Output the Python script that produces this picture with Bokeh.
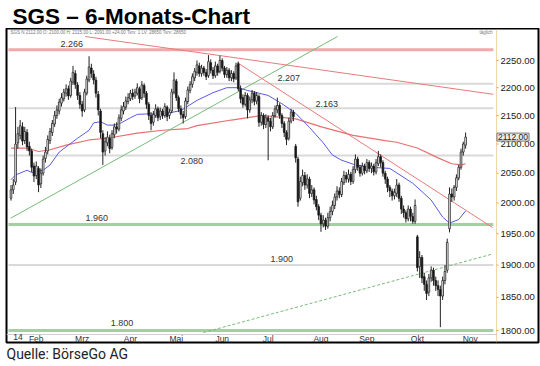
from bokeh.plotting import figure
from bokeh.layouts import column
from bokeh.models import Range1d, Label, Title, ColumnDataSource
from bokeh.embed import file_html
from bokeh.resources import INLINE
from bokeh.core.properties import value

# ---------------- data ----------------
opens = [2008, 2022, 2035, 2102, 2115, 2130, 2106, 2120, 2096, 2088,
         2062, 2046, 2058, 2032, 2050, 2075, 2088, 2106, 2120, 2135,
         2150, 2158, 2172, 2180, 2190, 2198, 2186, 2210, 2226, 2205,
         2186, 2170, 2160, 2190, 2214, 2236, 2225, 2214, 2188, 2158,
         2118, 2088, 2102, 2110, 2094, 2116, 2130, 2126, 2145, 2158,
         2165, 2175, 2180, 2190, 2185, 2190, 2198, 2182, 2204, 2190,
         2170, 2150, 2138, 2150, 2162, 2148, 2158, 2150, 2165, 2150,
         2158, 2192, 2212, 2182, 2162, 2152, 2148, 2175, 2195, 2206,
         2218, 2228, 2240, 2226, 2236, 2228, 2222, 2246, 2232, 2222,
         2240, 2230, 2250, 2236, 2224, 2232, 2218, 2226, 2218, 2244,
         2198, 2182, 2170, 2186, 2160, 2178, 2190, 2176, 2184, 2138,
         2150, 2134, 2146, 2140, 2130, 2150, 2160, 2168, 2150, 2136,
         2120, 2110, 2140, 2156, 2096, 2074, 2008, 2034, 2046, 2030,
         2040, 2016, 2022, 2006, 1994, 1980, 1966, 1972, 1962, 1976,
         1986, 1996, 2010, 2020, 2014, 2034, 2046, 2040, 2048, 2036,
         2056, 2074, 2060, 2050, 2062, 2054, 2068, 2058, 2062, 2052,
         2066, 2078, 2068, 2050, 2040, 2026, 2020, 2012, 2016, 2030,
         2008, 1990, 1984, 1974, 1990, 1978, 1970, 1945, 1898, 1912,
         1882, 1870, 1858, 1880, 1892, 1876, 1868, 1862, 1852, 1876,
         1892, 1958, 2015, 2010, 2026, 2042, 2060, 2086, 2098]
highs = [2030, 2040, 2165, 2130, 2142, 2138, 2130, 2126, 2104, 2092,
         2068, 2070, 2062, 2058, 2080, 2095, 2115, 2128, 2142, 2158,
         2168, 2180, 2190, 2198, 2206, 2204, 2218, 2240, 2232, 2210,
         2192, 2176, 2198, 2222, 2258, 2244, 2232, 2220, 2194, 2162,
         2124, 2112, 2122, 2116, 2124, 2136, 2138, 2152, 2168, 2174,
         2184, 2190, 2196, 2198, 2198, 2208, 2202, 2212, 2208, 2194,
         2174, 2156, 2158, 2170, 2166, 2164, 2162, 2172, 2168, 2162,
         2198, 2228, 2216, 2186, 2168, 2158, 2182, 2202, 2212, 2226,
         2236, 2250, 2246, 2242, 2240, 2234, 2260, 2252, 2238, 2248,
         2244, 2259, 2254, 2240, 2238, 2236, 2232, 2230, 2246, 2248,
         2204, 2188, 2192, 2190, 2184, 2196, 2194, 2192, 2188, 2156,
         2154, 2152, 2150, 2146, 2156, 2168, 2182, 2172, 2154, 2140,
         2124, 2146, 2162, 2160, 2100, 2078, 2044, 2056, 2052, 2048,
         2044, 2030, 2026, 2012, 1998, 1984, 1980, 1976, 1984, 1994,
         2004, 2016, 2028, 2026, 2042, 2054, 2052, 2056, 2052, 2062,
         2082, 2078, 2064, 2068, 2066, 2074, 2072, 2068, 2066, 2074,
         2088, 2082, 2072, 2054, 2044, 2030, 2024, 2024, 2040, 2034,
         2012, 1996, 1988, 1996, 1994, 1984, 2006, 1948, 1922, 1916,
         1888, 1876, 1886, 1898, 1896, 1882, 1876, 1868, 1882, 1900,
         1942, 2026, 2024, 2030, 2048, 2064, 2092, 2104, 2120]
lows = [2004, 2015, 2030, 2092, 2108, 2098, 2100, 2088, 2080, 2052,
        2035, 2040, 2018, 2025, 2046, 2068, 2082, 2100, 2114, 2130,
        2144, 2152, 2166, 2175, 2184, 2178, 2182, 2205, 2198, 2178,
        2162, 2148, 2156, 2186, 2210, 2218, 2206, 2182, 2150, 2110,
        2064, 2080, 2096, 2084, 2090, 2110, 2118, 2122, 2140, 2152,
        2160, 2170, 2176, 2178, 2180, 2186, 2172, 2178, 2182, 2162,
        2142, 2124, 2132, 2146, 2140, 2142, 2144, 2146, 2140, 2144,
        2154, 2188, 2176, 2156, 2144, 2136, 2144, 2170, 2190, 2200,
        2212, 2222, 2220, 2220, 2222, 2214, 2218, 2226, 2216, 2218,
        2222, 2226, 2230, 2218, 2218, 2212, 2212, 2210, 2214, 2194,
        2172, 2164, 2166, 2145, 2155, 2172, 2168, 2170, 2130, 2132,
        2126, 2128, 2072, 2122, 2126, 2146, 2154, 2144, 2128, 2112,
        2098, 2106, 2136, 2140, 2068, 1994, 2004, 2028, 2022, 2024,
        2008, 2010, 1998, 1988, 1972, 1953, 1960, 1956, 1958, 1970,
        1980, 1990, 2004, 2008, 2010, 2030, 2034, 2034, 2030, 2032,
        2050, 2054, 2044, 2046, 2048, 2050, 2052, 2050, 2046, 2048,
        2062, 2060, 2044, 2032, 2018, 2010, 2004, 2006, 2010, 2002,
        1982, 1976, 1968, 1970, 1970, 1966, 1966, 1890, 1880, 1872,
        1860, 1846, 1852, 1874, 1868, 1860, 1852, 1805, 1846, 1870,
        1888, 1952, 2002, 2004, 2020, 2038, 2056, 2080, 2092]
closes = [2022, 2030, 2100, 2118, 2132, 2105, 2122, 2095, 2088, 2060,
          2045, 2062, 2030, 2050, 2074, 2086, 2108, 2122, 2136, 2150,
          2160, 2174, 2182, 2192, 2198, 2185, 2212, 2228, 2206, 2186,
          2170, 2158, 2192, 2216, 2238, 2226, 2214, 2190, 2160, 2120,
          2086, 2104, 2112, 2092, 2118, 2130, 2126, 2146, 2160, 2166,
          2176, 2182, 2190, 2184, 2192, 2200, 2180, 2205, 2190, 2170,
          2150, 2136, 2152, 2162, 2146, 2158, 2150, 2166, 2148, 2156,
          2192, 2214, 2182, 2162, 2152, 2146, 2176, 2196, 2206, 2220,
          2230, 2242, 2226, 2236, 2228, 2220, 2248, 2232, 2222, 2240,
          2228, 2250, 2236, 2224, 2232, 2218, 2226, 2216, 2240, 2198,
          2180, 2170, 2186, 2160, 2178, 2190, 2175, 2186, 2138, 2150,
          2134, 2146, 2140, 2130, 2150, 2162, 2168, 2150, 2136, 2120,
          2108, 2140, 2156, 2148, 2076, 2002, 2036, 2046, 2030, 2040,
          2016, 2022, 2005, 1994, 1980, 1966, 1972, 1962, 1976, 1986,
          1996, 2010, 2020, 2014, 2036, 2046, 2040, 2048, 2036, 2056,
          2074, 2060, 2050, 2062, 2054, 2068, 2058, 2062, 2052, 2068,
          2078, 2068, 2050, 2040, 2026, 2020, 2012, 2018, 2030, 2008,
          1990, 1984, 1974, 1990, 1978, 1970, 1996, 1896, 1912, 1880,
          1870, 1856, 1880, 1892, 1876, 1868, 1862, 1852, 1876, 1890,
          1936, 2015, 2010, 2026, 2042, 2060, 2086, 2100, 2112]
bars = list(range(len(closes)))

month_labels = ["14", "Feb", "Mrz", "Apr", "Mai", "Jun", "Jul", "Aug", "Sep", "Okt", "Nov"]
month_start_bar = [0, 8, 28, 49, 69, 89, 109, 132, 152, 174, 197]

price_ticks = [1800, 1850, 1900, 1950, 2000, 2050, 2100, 2150, 2200, 2250]

# horizontal support / resistance levels
level_values = [2270, 2207, 2163, 2080, 1965, 1900, 1800]
level_labels = ["2.266", "2.207", "2.163", "2.080", "1.960", "1.900", "1.800"]
level_kinds = ["red", "gray", "gray", "gray", "green", "gray", "green"]
level_first_bar = [-1.1, 86, -1.1, -1.1, -1.1, -1.1, -1.1]
level_last_bar = 210.1

# moving averages (blue = short, red = long)
ma_short_bar = [0, 2, 7, 9, 14, 17, 21, 25, 29, 34, 36, 39, 42, 45, 48, 52, 55,
                60, 66, 74, 81, 88, 94, 99, 103, 107, 112, 118, 124, 130, 136,
                140, 144, 150, 157, 165, 175, 183, 188, 191, 195, 198]
ma_short_val = [2039, 2047, 2055, 2051, 2055, 2064, 2086, 2098, 2110, 2124, 2137,
                2139, 2133, 2133, 2137, 2146, 2152, 2153, 2152, 2159, 2177, 2191,
                2200, 2200, 2195, 2191, 2186, 2171, 2154, 2129, 2102, 2081, 2072,
                2064, 2060, 2058, 2033, 2005, 1977, 1967, 1973, 1987]
ma_long_bar = [0, 7, 12, 17, 24, 34, 42, 55, 66, 77, 81, 96, 109, 115, 124,
               136, 149, 163, 168, 177, 186, 192, 196, 198]
ma_long_val = [2093, 2093, 2087, 2090, 2098, 2107, 2110, 2119, 2124, 2127, 2132,
               2142, 2150, 2148, 2144, 2129, 2115, 2106, 2103, 2093, 2076, 2066,
               2064, 2066]

# trend lines (bar, price) end points
trend_up_bars = [-0.2, 142.2]
trend_up_vals = [1975, 2295]
trend_up2_bars = [83.8, 209.7]
trend_up2_vals = [1797, 1917.5]
trend_down_bars = [32.4, 210.1]
trend_down_vals = [2295, 2188]
trend_down2_bars = [98.6, 209.7]
trend_down2_vals = [2246, 1960]

# ---------------- layout ----------------
W = 540
HEAD_H = 28
MAIN_H = 338
X0, X1 = -1.96, 229.75          # bar range covered by the chart box
Y0, Y1 = 1782.3, 2310.3          # price range covered by the chart box (log)
axis_bar = 211.45                # bar position of the price axis line
axis_label_bar = 213.2
plot_bottom_val = 1794.1
month_label_val = 1795.2
header_val = 2303.6
label_shift = 3

# heading strip (own small figure so the chart box starts exactly below it)
ph = figure(width=W, height=HEAD_H, x_range=Range1d(0, W), y_range=Range1d(0, HEAD_H),
            x_axis_location=None, y_axis_location=None, output_backend="svg",
            toolbar_location=None, min_border=0)
ph.xgrid.visible = False
ph.ygrid.visible = False
ph.outline_line_color = None
ph.text(x=[6], y=[12], text=["SGS – 6-Monats-Chart"], text_font=value("Liberation Sans"),
        text_font_style="bold", text_font_size="22.5px", text_color="black",
        text_baseline="alphabetic", text_align="left")

p = figure(width=W, height=MAIN_H, x_range=Range1d(X0, X1), y_range=Range1d(Y0, Y1),
           y_axis_type="log", x_axis_location=None, y_axis_location=None,
           output_backend="svg", toolbar_location=None,
           min_border_left=6, min_border_right=2, min_border_top=0, min_border_bottom=24)
p.xgrid.visible = False
p.ygrid.visible = False
p.outline_line_color = "black"
p.outline_line_width = 2
p.background_fill_color = "white"
p.border_fill_color = "white"

p.add_layout(Title(text="Quelle: BörseGo AG", align="left", offset=0, standoff=3,
                   text_font="Roboto", text_font_style="normal", text_font_size="14px",
                   text_color="#222222"), "below")

# level lines
style = {"red": ("#f2a9a9", 3), "gray": ("#d9d9d9", 2), "green": ("#a3cfa3", 3)}
for v, kind, b0 in zip(level_values, level_kinds, level_first_bar):
    col, lw = style[kind]
    p.segment(x0=[b0], y0=[v], x1=[level_last_bar], y1=[v], line_color=col, line_width=lw)

# plot-area bottom rule
p.segment(x0=[X0], y0=[plot_bottom_val], x1=[axis_bar], y1=[plot_bottom_val],
          line_color="#cfcfcf", line_width=1)

# trend lines
p.line(trend_up_bars, trend_up_vals, line_color="#77bb77", line_width=1)
p.line(trend_up2_bars, trend_up2_vals, line_color="#77bb77", line_width=1, line_dash="3 2")
p.line(trend_down_bars, trend_down_vals, line_color="#e87a7a", line_width=1)
p.line(trend_down2_bars, trend_down2_vals, line_color="#e87a7a", line_width=1)

# moving averages
p.line(ma_long_bar, ma_long_val, line_color="#e87070", line_width=1.2)
p.line(ma_short_bar, ma_short_val, line_color="#5a5ae6", line_width=1)

# candles
src = ColumnDataSource(dict(
    x=bars, high=highs, low=lows,
    top=[max(o, c) for o, c in zip(opens, closes)],
    bottom=[min(o, c) for o, c in zip(opens, closes)],
    fill=["white" if c >= o else "#111111" for o, c in zip(opens, closes)],
))
p.segment(x0="x", y0="low", x1="x", y1="high", source=src, line_color="#222222", line_width=1)
p.vbar(x="x", width=0.72, top="top", bottom="bottom", fill_color="fill",
       line_color="#222222", line_width=0.8, source=src)

# level labels
label_bar = [21.6, 116.1, 132.6, 73.8, 32.4, 113.0, 43.4]
label_val = [2280, 2217, 2171, 2070, 1975, 1910, 1811]
p.text(x=label_bar, y=label_val, text=level_labels, text_font=value("Liberation Sans"),
       text_font_size="9px", text_color="#333333", text_baseline="middle", text_align="left")

# price axis (right): dotted line, ticks and labels placed by the log scale
p.segment(x0=[axis_bar], y0=[Y0], x1=[axis_bar], y1=[Y1], line_color="#e2a955",
          line_width=1, line_dash="1 1")
p.segment(x0=[axis_bar] * len(price_ticks), y0=price_ticks,
          x1=[axis_bar + 0.9] * len(price_ticks), y1=price_ticks,
          line_color="#e2a955", line_width=1)
p.text(x=[axis_label_bar] * len(price_ticks), y=price_ticks,
       text=["%.2f" % t for t in price_ticks], text_font=value("Liberation Sans"),
       text_font_size="9.5px", text_color="#222222", text_baseline="middle", text_align="left")

# last price marker
p.add_layout(Label(x=axis_bar + 0.2, y=closes[-1], text="%.2f" % closes[-1],
                   text_font="Liberation Sans", text_font_size="8.5px",
                   text_color="#222222", text_baseline="middle", text_align="left",
                   background_fill_color="#ececec", border_line_color="#777777",
                   padding=1))

# month axis (bottom)
p.text(x=[m + label_shift for m in month_start_bar], y=[month_label_val] * len(month_labels),
       text=month_labels, text_font=value("Liberation Sans"), text_font_size="8.5px",
       text_color="#333333", text_baseline="top", text_align="center")

# header strip
p.text(x=[-0.2], y=[header_val],
       text=["SGS N  2112.00  O: 2100.00  H: 2115.00  L: 2091.00  +24.00  Tsrv: 1  LV: 28650  Tsrv: 28650"],
       text_font=value("Liberation Sans"), text_font_size="4.5px", text_color="#777777",
       text_baseline="middle", text_align="left")
p.text(x=[204.0], y=[header_val], text=["täglich"], text_font=value("Liberation Sans"),
       text_font_size="4.5px", text_color="#777777", text_baseline="middle", text_align="left")

layout = column(ph, p, spacing=0)
open("out.html", "w").write(file_html(layout, INLINE))
